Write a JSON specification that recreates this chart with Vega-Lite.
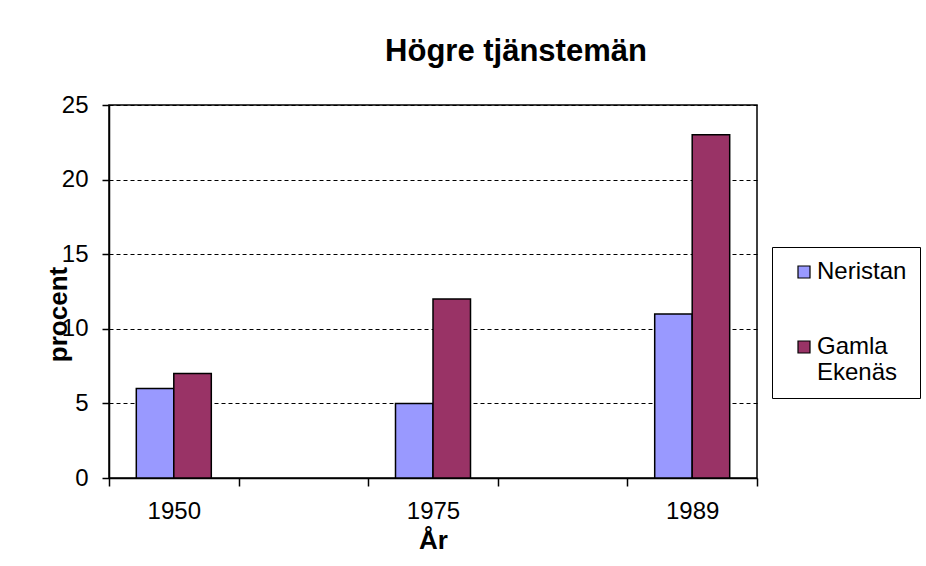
{
  "$schema": "https://vega.github.io/schema/vega-lite/v6.json",
  "autosize": "none",
  "width": 648,
  "height": 373,
  "padding": {"left": 109, "top": 105, "right": 169, "bottom": 88},
  "background": "white",
  "title": {
    "text": "Högre tjänstemän",
    "font": "Liberation Sans",
    "fontSize": 31,
    "fontWeight": "bold",
    "color": "black",
    "frame": "group",
    "anchor": "middle",
    "baseline": "alphabetic",
    "offset": 1,
    "dx": 83
  },
  "data": {
    "values": [
      {"year": "1950", "area": "Neristan", "percent": 6},
      {"year": "1950", "area": "Gamla Ekenäs", "percent": 7},
      {"year": "1975", "area": "Neristan", "percent": 5},
      {"year": "1975", "area": "Gamla Ekenäs", "percent": 12},
      {"year": "1989", "area": "Neristan", "percent": 11},
      {"year": "1989", "area": "Gamla Ekenäs", "percent": 23}
    ]
  },
  "mark": {"type": "bar", "stroke": "black", "strokeWidth": 1.5},
  "encoding": {
    "x": {
      "field": "year",
      "type": "nominal",
      "scale": {"domain": ["1950", "gap1", "1975", "gap2", "1989"], "paddingInner": 0, "paddingOuter": 0},
      "axis": {
        "title": "År",
        "labelAngle": 0,
        "labelExpr": "indexof(datum.label, 'gap') >= 0 ? '' : datum.label",
        "tickBand": "extent",
        "tickSize": 8,
        "labelPadding": 13,
        "titleY": 70,
        "titleBaseline": "alphabetic"
      }
    },
    "xOffset": {
      "field": "area",
      "type": "nominal",
      "scale": {"domain": ["Neristan", "Gamla Ekenäs"], "paddingInner": 0, "paddingOuter": 0.728}
    },
    "y": {
      "field": "percent",
      "type": "quantitative",
      "scale": {"domain": [0, 25], "nice": false},
      "axis": {
        "title": "procent",
        "values": [0, 5, 10, 15, 20, 25],
        "tickSize": 7,
        "labelPadding": 14,
        "grid": true,
        "gridColor": "black",
        "gridDash": [4, 3],
        "gridWidth": 1,
        "gridOpacity": 1,
        "titleX": -43,
        "titleY": 209,
        "titleAngle": 270,
        "titleBaseline": "alphabetic",
        "titleAlign": "center"
      }
    },
    "color": {
      "field": "area",
      "type": "nominal",
      "scale": {"domain": ["Neristan", "Gamla Ekenäs"], "range": ["#9999FF", "#993366"]},
      "legend": {
        "title": null,
        "orient": "none",
        "legendX": 663,
        "legendY": 142,
        "strokeColor": "black",
        "padding": 13,
        "symbolOffset": 7,
        "symbolType": "square",
        "symbolSize": 144,
        "symbolStrokeColor": "black",
        "symbolStrokeWidth": 1.2,
        "symbolOpacity": 1,
        "labelOffset": 1,
        "labelFontSize": 24,
        "labelFont": "Liberation Sans",
        "labelColor": "black",
        "labelBaseline": "middle",
        "labelLineHeight": 31,
        "labelLimit": 300,
        "rowPadding": 51,
        "labelExpr": "datum.label == 'Gamla Ekenäs' ? ['Gamla', 'Ekenäs'] : datum.label"
      }
    }
  },
  "config": {
    "view": {"stroke": "black", "strokeWidth": 1.5},
    "axis": {
      "domainColor": "black",
      "domainWidth": 1.5,
      "tickColor": "black",
      "tickWidth": 1.5,
      "labelFont": "Liberation Sans",
      "labelFontSize": 24,
      "labelColor": "black",
      "titleFont": "Liberation Sans",
      "titleFontSize": 26,
      "titleFontWeight": "bold",
      "titleColor": "black"
    },
    "axisX": {"grid": false}
  }
}
